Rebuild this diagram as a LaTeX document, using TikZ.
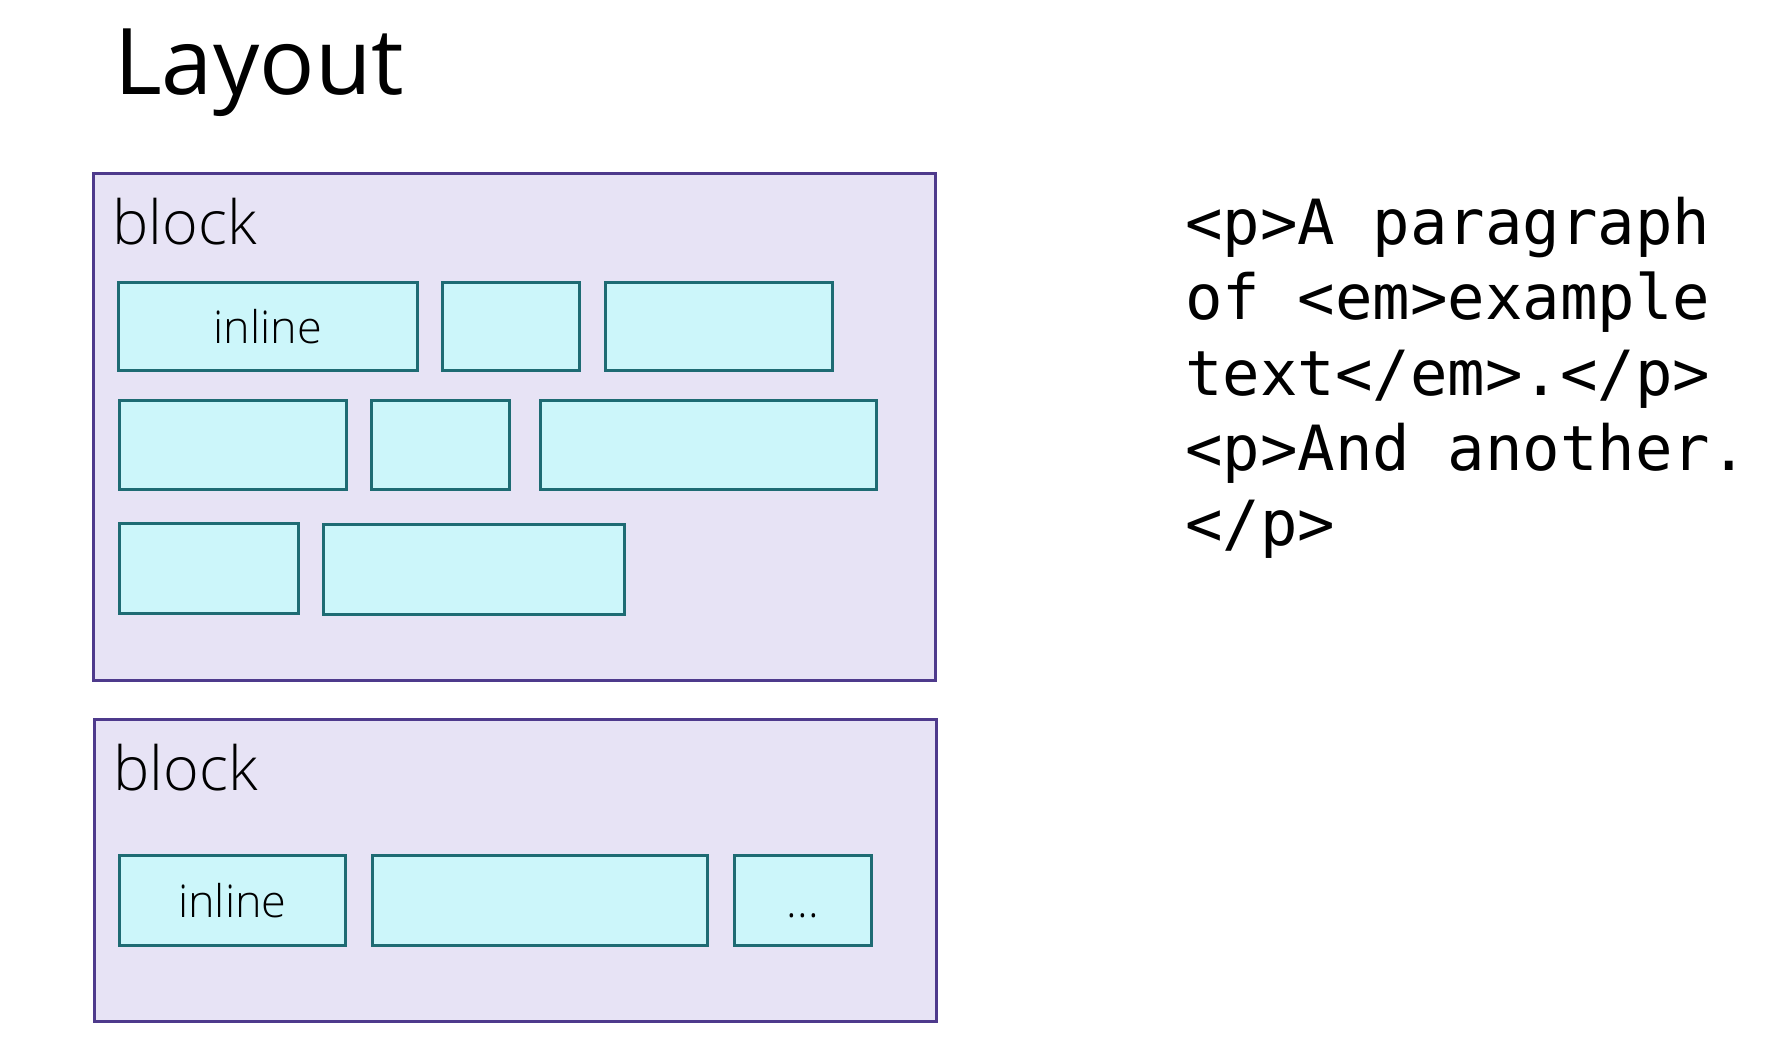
\documentclass[tikz,border=0pt]{standalone}
\usepackage{fontspec}
\setmainfont{Open Sans}
\newfontfamily\lightfont{Open Sans Light}
\newfontfamily\codefont{DejaVu Sans Mono}
\definecolor{blockfill}{HTML}{E7E3F5}
\definecolor{blockdraw}{HTML}{4E3A8C}
\definecolor{inlfill}{HTML}{CCF6FA}
\definecolor{inldraw}{HTML}{1E6B73}
\begin{document}
\begin{tikzpicture}[x=1pt,y=-1pt,
  blockbox/.style={draw=blockdraw,fill=blockfill,line width=2.8pt,inner sep=0pt,anchor=north west},
  inlbox/.style={draw=inldraw,fill=inlfill,line width=2.8pt,inner sep=0pt,anchor=north west,
    font=\lightfont\fontsize{45}{52}\selectfont},
  lbl/.style={anchor=base west,inner sep=0pt,font=\lightfont\fontsize{61}{70}\selectfont},
  codeline/.style={anchor=base west,inner sep=0pt,font=\codefont\fontsize{62.3}{75}\selectfont}]
\useasboundingbox (0,0) rectangle (1774,1048);
\fill[white] (0,0) rectangle (1774,1048);

\node[anchor=base west,inner sep=0pt,font=\fontsize{92}{110}\selectfont] (title) at (114,95) {Layout};

% block 1
\node[blockbox,minimum width=842pt,minimum height=507pt] (b1) at (92,172) {};
\node[lbl] (b1l) at (112,245) {block};
\node[inlbox,minimum width=299pt,minimum height=88pt] (i11) at (117,281) {inline};
\node[inlbox,minimum width=137pt,minimum height=88pt] (i12) at (441,281) {};
\node[inlbox,minimum width=227pt,minimum height=88pt] (i13) at (604,281) {};
\node[inlbox,minimum width=227pt,minimum height=89pt] (i21) at (118,399) {};
\node[inlbox,minimum width=138pt,minimum height=89pt] (i22) at (370,399) {};
\node[inlbox,minimum width=336pt,minimum height=89pt] (i23) at (539,399) {};
\node[inlbox,minimum width=179pt,minimum height=90pt] (i31) at (118,522) {};
\node[inlbox,minimum width=301pt,minimum height=90pt] (i32) at (322,523) {};

% block 2
\node[blockbox,minimum width=842pt,minimum height=302pt] (b2) at (93,718) {};
\node[lbl] (b2l) at (113,790) {block};
\node[inlbox,minimum width=226pt,minimum height=90pt] (j1) at (118,854) {inline};
\node[inlbox,minimum width=335pt,minimum height=90pt] (j2) at (371,854) {};
\node[inlbox,minimum width=137pt,minimum height=90pt] (j3) at (733,854) {\vphantom{inline}...};

% code
\node[codeline] (c1) at (1185,245) {<p>A paragraph};
\node[codeline] (c2) at (1185,320) {of <em>example};
\node[codeline] (c3) at (1185,395) {text</em>.</p>};
\node[codeline] (c4) at (1185,470) {<p>And another.};
\node[codeline] (c5) at (1185,545) {</p>};
\end{tikzpicture}
\end{document}
